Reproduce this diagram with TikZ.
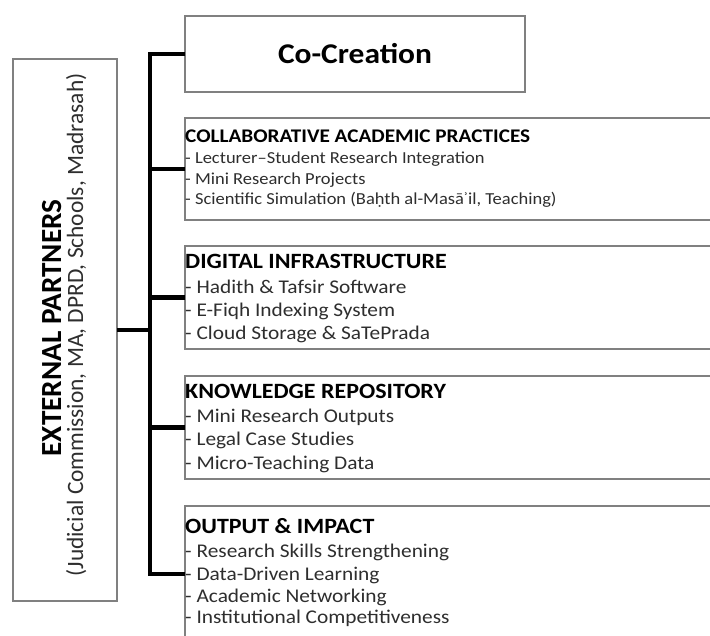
\documentclass[tikz,border=0pt]{standalone}
\usepackage{fontspec}
% horizontal labels use a slightly widened Carlito
\setmainfont{Carlito}[FakeStretch=1.1]
\newfontfamily\uprightfont{Carlito}
\begin{document}
\begin{tikzpicture}[x=1pt,y=-1pt,
  panel/.style={draw=black!50, line width=1.4pt, fill=white, inner sep=0pt, outer sep=0pt, anchor=north west},
  conn/.style={line width=4.5pt, black},
  head/.style={anchor=base west, inner sep=0pt, font=\bfseries\fontsize{21.8}{24}\selectfont},
  headsmall/.style={anchor=base west, inner sep=0pt, font=\bfseries\fontsize{19.3}{22}\selectfont},
  item/.style={anchor=base west, inner sep=0pt, text=black!82, font=\fontsize{19.4}{22}\selectfont},
  itemsmall/.style={anchor=base west, inner sep=0pt, text=black!82, font=\fontsize{16.8}{19}\selectfont}]
\useasboundingbox (0,0) rectangle (710,636);
\clip (0,0) rectangle (710,636);

% boxes
\node[panel, minimum width=340pt, minimum height=76pt] (cc) at (185,16) {};
\node[font=\bfseries\fontsize{28.6}{32}\selectfont] (cct) at (cc.center) {Co-Creation};
\node[panel, minimum width=104pt, minimum height=542pt] (ext) at (13,59) {};
\node[panel, minimum width=560pt, minimum height=102pt] (cap) at (185,118) {};
\node[panel, minimum width=560pt, minimum height=103pt] (dig) at (185,246) {};
\node[panel, minimum width=560pt, minimum height=103pt] (kr) at (185,376) {};
\node[panel, minimum width=560pt, minimum height=136pt] (oi) at (185,506) {};

% external partners label (vertical)
\node[rotate=90, anchor=base, inner sep=0pt, font=\uprightfont\bfseries\fontsize{29.2}{32}\selectfont] (extt) at (61,328) {EXTERNAL PARTNERS};
\node[rotate=90, anchor=base, inner sep=0pt, text=black!82, font=\uprightfont\fontsize{23.4}{26}\selectfont] (exts) at (83,325) {(Judicial Commission, MA, DPRD, Schools, Madrasah)};

% connectors
\coordinate (trunk) at (150,0);
\draw[conn] (cc.west) -- (cc.west -| trunk) -- (oi.west -| trunk) -- (oi.west);
\draw[conn] (cap.west) -- (cap.west -| trunk);
\draw[conn] (dig.west) -- (dig.west -| trunk);
\draw[conn] (kr.west) -- (kr.west -| trunk);
\draw[conn] (ext.east) -- (ext.east -| trunk);

% collaborative academic practices
\node[headsmall] (cap0) at (185,143) {COLLABORATIVE ACADEMIC PRACTICES};
\node[itemsmall] (cap1) at (185,164) {- Lecturer–Student Research Integration};
\node[itemsmall] (cap2) at (185,185) {- Mini Research Projects};
\node[itemsmall] (cap3) at (185,205) {- Scientific Simulation (Baḥth al-Masāʾil, Teaching)};

% digital infrastructure
\node[head] (dig0) at (185,269) {DIGITAL INFRASTRUCTURE};
\node[item] (dig1) at (185,294) {- Hadith \& Tafsir Software};
\node[item] (dig2) at (185,317) {- E-Fiqh Indexing System};
\node[item] (dig3) at (185,340) {- Cloud Storage \& SaTePrada};

% knowledge repository
\node[head] (kr0) at (185,399) {KNOWLEDGE REPOSITORY};
\node[item] (kr1) at (185,423) {- Mini Research Outputs};
\node[item] (kr2) at (185,446) {- Legal Case Studies};
\node[item] (kr3) at (185,469) {- Micro-Teaching Data};

% output and impact
\node[head] (oi0) at (185,533) {OUTPUT \& IMPACT};
\node[item] (oi1) at (185,557) {- Research Skills Strengthening};
\node[item] (oi2) at (185,580) {- Data-Driven Learning};
\node[item] (oi3) at (185,602) {- Academic Networking};
\node[item] (oi4) at (185,623) {- Institutional Competitiveness};
\end{tikzpicture}
\end{document}
